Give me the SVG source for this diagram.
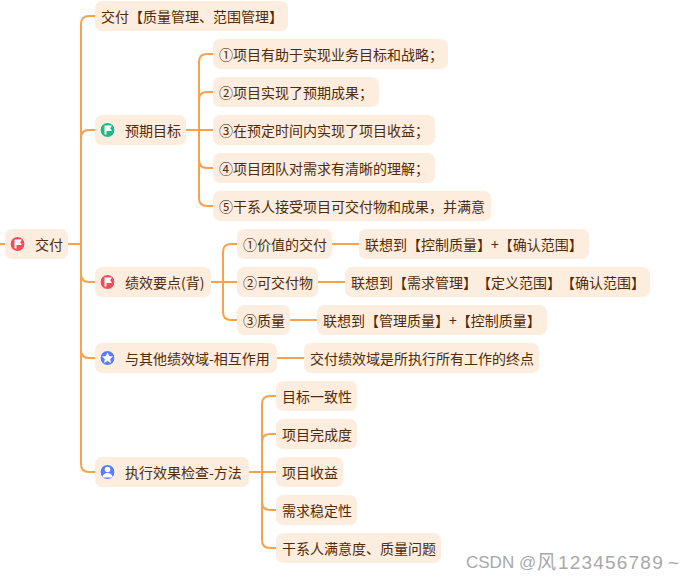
<svg xmlns="http://www.w3.org/2000/svg" width="696" height="581" viewBox="0 0 696 581">
<style>
.n{fill:#fdeddf}
text{font-family:"Noto Sans CJK SC","Microsoft YaHei","Liberation Sans",sans-serif;font-size:14px;fill:#512b08;dominant-baseline:central;text-spacing-trim:space-all;font-feature-settings:"chws" 0,"halt" 0}
.c{fill:none;stroke:#f9a24e;stroke-width:2;stroke-linecap:butt}
.w{fill:#fff}
.wm{font-family:"Liberation Sans","Noto Sans CJK SC",sans-serif;font-size:17px;fill:#a8a8a8}
.wl{font-size:19px}
</style>
<defs>
<path id="flag" d="M-3-4.500H4.500L2.600-1.800 4.500 1H-1V4.500H-3Z" fill="#fff"/>
</defs>
<rect width="696" height="581" fill="#fff"/>
<g id="connectors" class="c">
<path d="M0 244H5"/>
<path d="M68 244H81"/>
<path d="M95 16H89Q81 16 81 24V464Q81 472 89 472H95"/>
<path d="M81 138Q81 130 89 130H95"/>
<path d="M81 274Q81 282 89 282H95"/>
<path d="M81 350Q81 358 89 358H95"/>
<path d="M186 130H213"/>
<path d="M213 54H207Q199 54 199 62V198Q199 206 207 206H213"/>
<path d="M199 100Q199 92 207 92H213"/>
<path d="M199 160Q199 168 207 168H213"/>
<path d="M211 282H237"/>
<path d="M237 244H231Q223 244 223 252V312Q223 320 231 320H237"/>
<path d="M332 244H359"/>
<path d="M318 282H345"/>
<path d="M290 320H317"/>
<path d="M277 358H304"/>
<path d="M249 472H276"/>
<path d="M276 396H270Q262 396 262 404V540Q262 548 270 548H276"/>
<path d="M262 442Q262 434 270 434H276"/>
<path d="M262 502Q262 510 270 510H276"/>
</g>
<g id="root"><rect class="n" x="5" y="229" width="63" height="30" rx="7"/><circle cx="17.500" cy="244" r="7.500" fill="#f64c56" stroke="#fff"/><use href="#flag" x="17.500" y="244"/><text x="35" y="244">交付</text></g>
<g id="n1"><rect class="n" x="95" y="1" width="193" height="30" rx="7"/><text x="101" y="16">交付【质量管理、范围管理】</text></g>
<g id="n2"><rect class="n" x="95" y="115" width="91" height="30" rx="7"/><circle cx="107.500" cy="130" r="7.500" fill="#1fb981" stroke="#fff"/><use href="#flag" x="107.500" y="130"/><text x="125" y="130">预期目标</text></g>
<g id="n21"><rect class="n" x="213" y="39" width="235" height="30" rx="7"/><text x="219" y="54">①项目有助于实现业务目标和战略；</text></g>
<g id="n22"><rect class="n" x="213" y="77" width="166" height="30" rx="7"/><text x="219" y="92">②项目实现了预期成果；</text></g>
<g id="n23"><rect class="n" x="213" y="115" width="222" height="30" rx="7"/><text x="219" y="130">③在预定时间内实现了项目收益；</text></g>
<g id="n24"><rect class="n" x="213" y="153" width="222" height="30" rx="7"/><text x="219" y="168">④项目团队对需求有清晰的理解；</text></g>
<g id="n25"><rect class="n" x="213" y="191" width="278" height="30" rx="7"/><text x="219" y="206">⑤干系人接受项目可交付物和成果，并满意</text></g>
<g id="n3"><rect class="n" x="95" y="267" width="116" height="30" rx="7"/><circle cx="107.500" cy="282" r="7.500" fill="#f64c56" stroke="#fff"/><use href="#flag" x="107.500" y="282"/><text x="125" y="282">绩效要点(背)</text></g>
<g id="n31"><rect class="n" x="237" y="229" width="95" height="30" rx="7"/><text x="243" y="244">①价值的交付</text></g>
<g id="n311"><rect class="n" x="359" y="229" width="230" height="30" rx="7"/><text x="365" y="244">联想到【控制质量】+【确认范围】</text></g>
<g id="n32"><rect class="n" x="237" y="267" width="81" height="30" rx="7"/><text x="243" y="282">②可交付物</text></g>
<g id="n321"><rect class="n" x="345" y="267" width="305" height="30" rx="7"/><text x="351" y="282">联想到【需求管理】【定义范围】【确认范围】</text></g>
<g id="n33"><rect class="n" x="237" y="305" width="53" height="30" rx="7"/><text x="243" y="320">③质量</text></g>
<g id="n331"><rect class="n" x="317" y="305" width="230" height="30" rx="7"/><text x="323" y="320">联想到【管理质量】+【控制质量】</text></g>
<g id="n4"><rect class="n" x="95" y="343" width="182" height="30" rx="7"/><circle cx="107.500" cy="358" r="7.500" fill="#5b7cf5" stroke="#fff"/><path class="w" d="M107.500 352.500l1.700 3.500 3.800.5-2.800 2.600.7 3.800-3.400-1.800-3.400 1.800.7-3.800-2.800-2.600 3.800-.5Z"/><text x="125" y="358">与其他绩效域-相互作用</text></g>
<g id="n41"><rect class="n" x="304" y="343" width="235" height="30" rx="7"/><text x="310" y="358">交付绩效域是所执行所有工作的终点</text></g>
<g id="n5"><rect class="n" x="95" y="457" width="154" height="30" rx="7"/><circle cx="107.500" cy="472" r="7.500" fill="#5b7cf5" stroke="#fff"/><circle class="w" cx="107.500" cy="469.500" r="2.800"/><path class="w" d="M102.500 477.500c0-6 10-6 10 0Z"/><text x="125" y="472">执行效果检查-方法</text></g>
<g id="n51"><rect class="n" x="276" y="381" width="81" height="30" rx="7"/><text x="282" y="396">目标一致性</text></g>
<g id="n52"><rect class="n" x="276" y="419" width="81" height="30" rx="7"/><text x="282" y="434">项目完成度</text></g>
<g id="n53"><rect class="n" x="276" y="457" width="67" height="30" rx="7"/><text x="282" y="472">项目收益</text></g>
<g id="n54"><rect class="n" x="276" y="495" width="81" height="30" rx="7"/><text x="282" y="510">需求稳定性</text></g>
<g id="n55"><rect class="n" x="276" y="533" width="165" height="30" rx="7"/><text x="282" y="548">干系人满意度、质量问题</text></g>
<text class="wm" x="466" y="562">CSDN @<tspan class="wl" x="537">风</tspan><tspan class="wl" x="558" letter-spacing="1.200">123456789</tspan><tspan class="wl" x="668">~</tspan></text>
</svg>
